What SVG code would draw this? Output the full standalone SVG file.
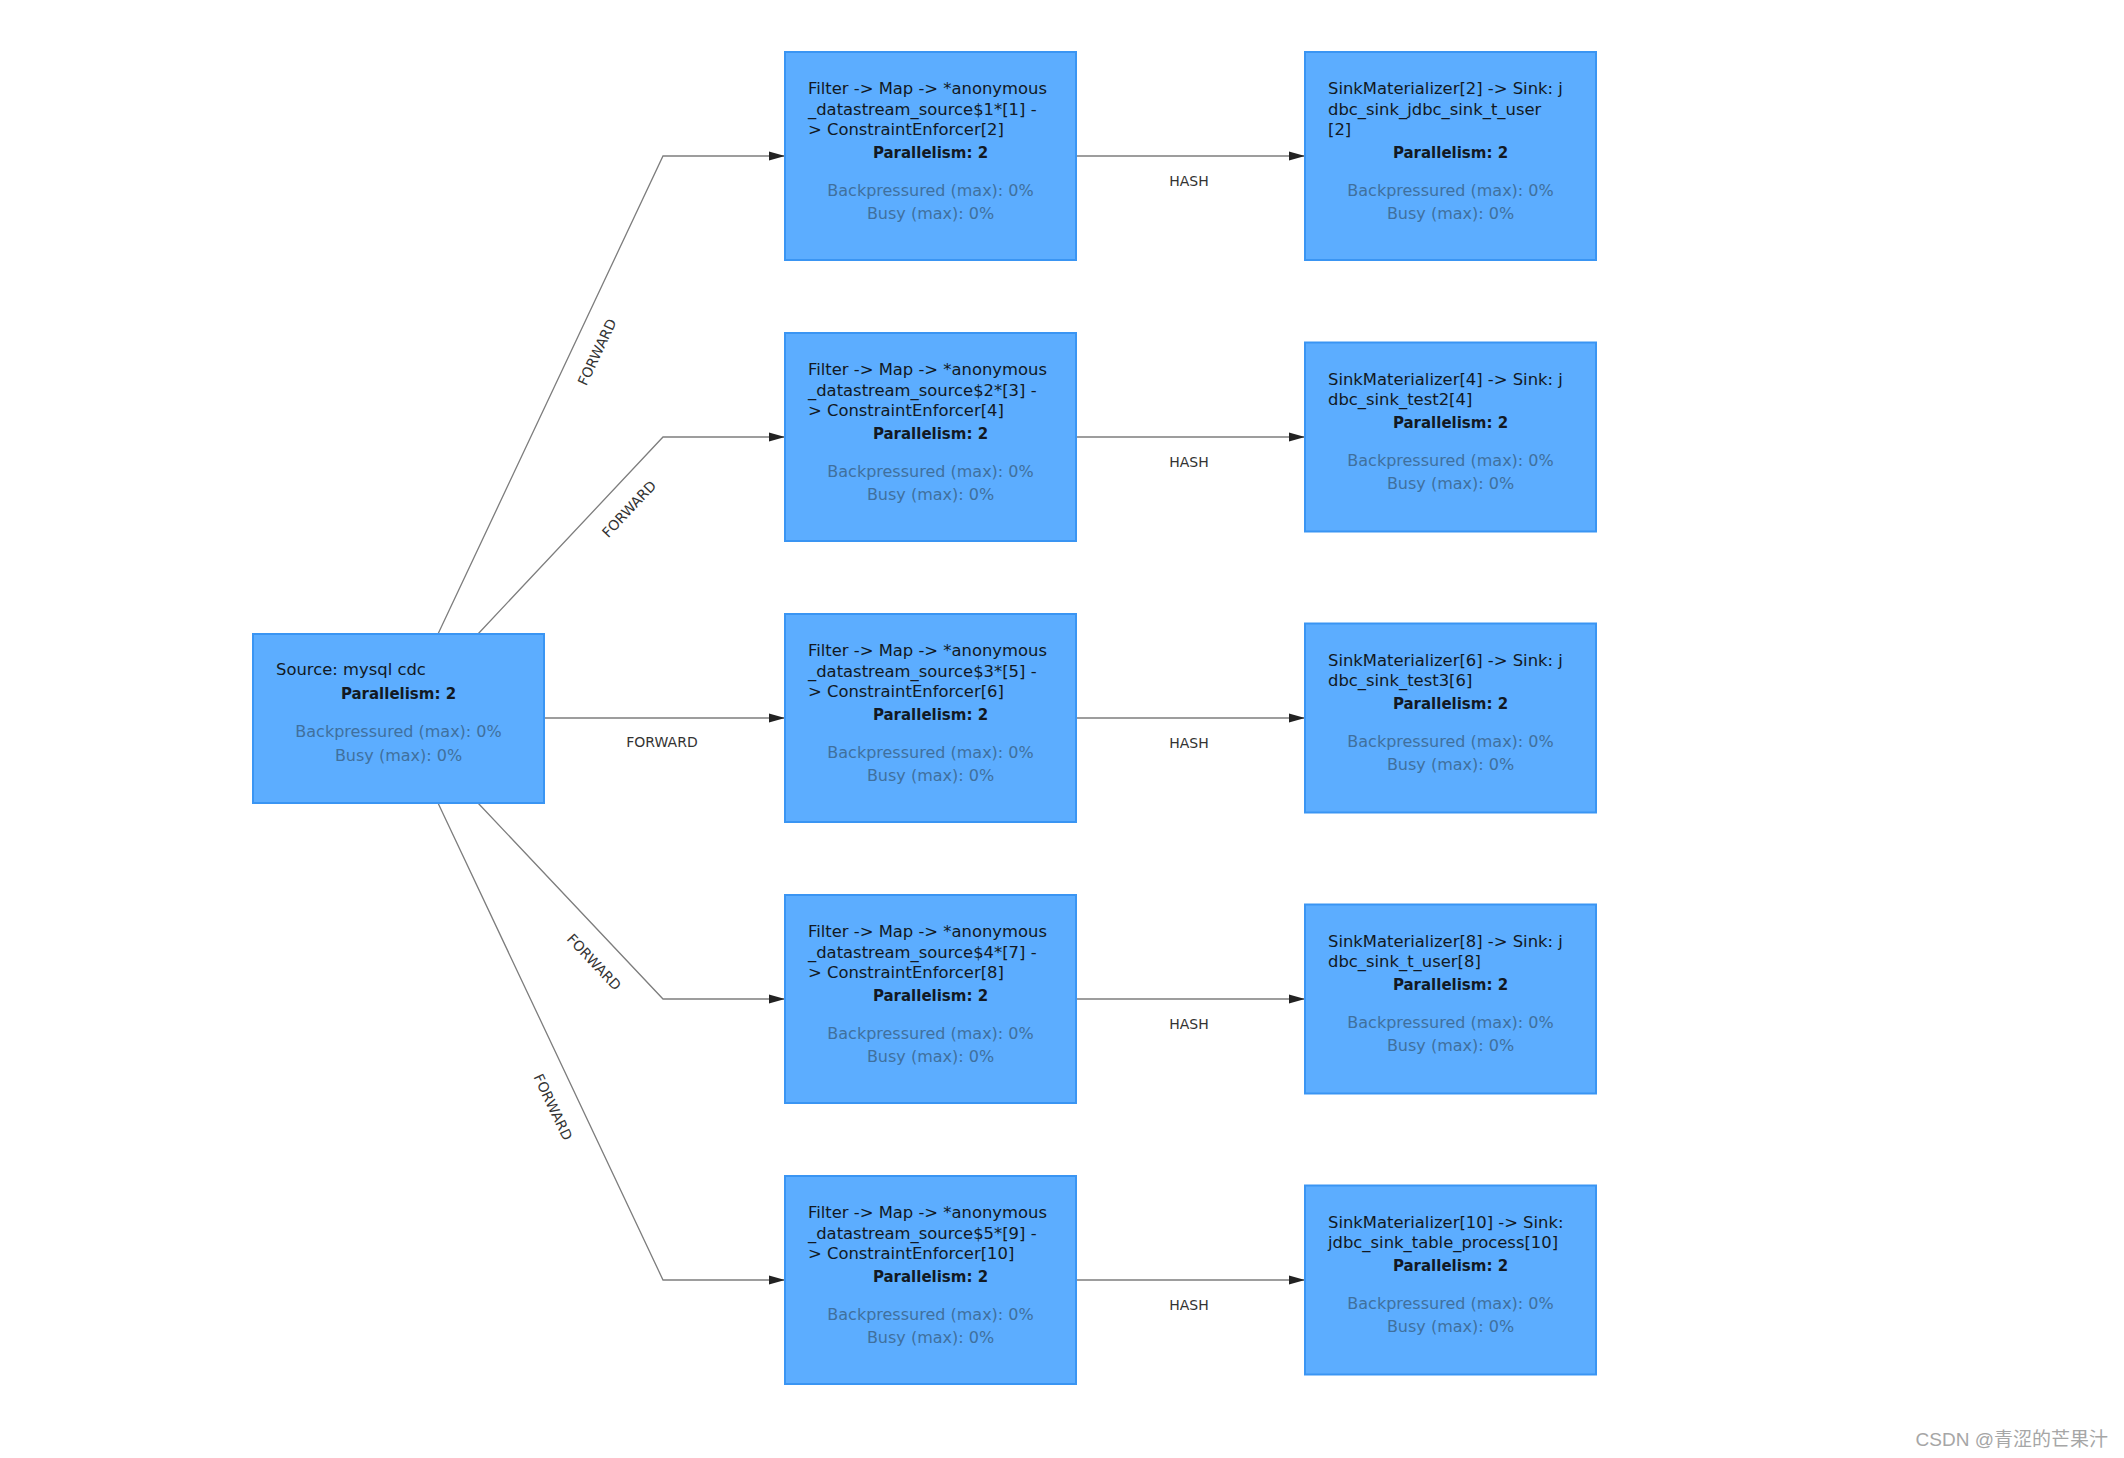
<svg xmlns="http://www.w3.org/2000/svg" width="2124" height="1458" viewBox="0 0 2124 1458">
<style>
.box{fill:#5cadff;stroke:#3a95f3;stroke-width:2}
.t{font-family:"DejaVu Sans","Noto Sans",sans-serif;font-size:16.4px;fill:#121923}
.p{font-family:"DejaVu Sans","Noto Sans",sans-serif;font-size:15px;font-weight:bold;fill:#121923;text-anchor:middle}
.m{font-family:"DejaVu Sans","Noto Sans",sans-serif;font-size:16px;fill:#40709d;text-anchor:middle}
.e{fill:none;stroke:#7d7d7d;stroke-width:1.3}
.lbl{font-family:"DejaVu Sans","Noto Sans",sans-serif;font-size:14px;fill:#333;text-anchor:middle}
.wm{font-family:"Liberation Sans","Noto Sans CJK SC",sans-serif;font-size:19px;fill:#a6a6a6;text-anchor:end}
</style>
<defs>
<marker id="arr" markerUnits="userSpaceOnUse" markerWidth="16" markerHeight="10" refX="16" refY="5" orient="auto">
<path d="M0,0.5 L16,5 L0,9.5 z" fill="#222"/>
</marker>
</defs>
<rect width="2124" height="1458" fill="#fff"/>
<g id="edges">
<path class="e" d="M438,634 L663,156 L785,156" marker-end="url(#arr)"/>
<path class="e" d="M478,634 L663,437 L785,437" marker-end="url(#arr)"/>
<path class="e" d="M544,718 L785,718" marker-end="url(#arr)"/>
<path class="e" d="M478,803 L663,999 L785,999" marker-end="url(#arr)"/>
<path class="e" d="M438,803 L663,1280 L785,1280" marker-end="url(#arr)"/>
<path class="e" d="M1076,156 L1305,156" marker-end="url(#arr)"/>
<path class="e" d="M1076,437 L1305,437" marker-end="url(#arr)"/>
<path class="e" d="M1076,718 L1305,718" marker-end="url(#arr)"/>
<path class="e" d="M1076,999 L1305,999" marker-end="url(#arr)"/>
<path class="e" d="M1076,1280 L1305,1280" marker-end="url(#arr)"/>
<text class="lbl" transform="translate(597,352) rotate(-64.8)" y="5">FORWARD</text>
<text class="lbl" transform="translate(629,509) rotate(-46.8)" y="5">FORWARD</text>
<text class="lbl" x="662" y="747">FORWARD</text>
<text class="lbl" transform="translate(594,962) rotate(46.7)" y="5">FORWARD</text>
<text class="lbl" transform="translate(553,1107) rotate(64.7)" y="5">FORWARD</text>
<text class="lbl" x="1189" y="186">HASH</text>
<text class="lbl" x="1189" y="467">HASH</text>
<text class="lbl" x="1189" y="748">HASH</text>
<text class="lbl" x="1189" y="1029">HASH</text>
<text class="lbl" x="1189" y="1310">HASH</text>
</g>
<g id="source">
<rect class="box" x="253" y="634" width="291" height="169"/>
<text class="t" x="276" y="675">Source: mysql cdc</text>
<text class="p" x="398.5" y="699">Parallelism: 2</text>
<text class="m" x="398.5" y="737">Backpressured (max): 0%</text>
<text class="m" x="398.5" y="761">Busy (max): 0%</text>
</g>
<g id="filter1">
<rect class="box" x="785" y="52" width="291" height="208"/>
<text class="t" x="808" y="94">Filter -&gt; Map -&gt; *anonymous</text>
<text class="t" x="808" y="114.5">_datastream_source$1*[1] -</text>
<text class="t" x="808" y="135">&gt; ConstraintEnforcer[2]</text>
<text class="p" x="930.5" y="158">Parallelism: 2</text>
<text class="m" x="930.5" y="196">Backpressured (max): 0%</text>
<text class="m" x="930.5" y="219">Busy (max): 0%</text>
</g>
<g id="filter2">
<rect class="box" x="785" y="333" width="291" height="208"/>
<text class="t" x="808" y="375">Filter -&gt; Map -&gt; *anonymous</text>
<text class="t" x="808" y="395.5">_datastream_source$2*[3] -</text>
<text class="t" x="808" y="416">&gt; ConstraintEnforcer[4]</text>
<text class="p" x="930.5" y="439">Parallelism: 2</text>
<text class="m" x="930.5" y="477">Backpressured (max): 0%</text>
<text class="m" x="930.5" y="500">Busy (max): 0%</text>
</g>
<g id="filter3">
<rect class="box" x="785" y="614" width="291" height="208"/>
<text class="t" x="808" y="656">Filter -&gt; Map -&gt; *anonymous</text>
<text class="t" x="808" y="676.5">_datastream_source$3*[5] -</text>
<text class="t" x="808" y="697">&gt; ConstraintEnforcer[6]</text>
<text class="p" x="930.5" y="720">Parallelism: 2</text>
<text class="m" x="930.5" y="758">Backpressured (max): 0%</text>
<text class="m" x="930.5" y="781">Busy (max): 0%</text>
</g>
<g id="filter4">
<rect class="box" x="785" y="895" width="291" height="208"/>
<text class="t" x="808" y="937">Filter -&gt; Map -&gt; *anonymous</text>
<text class="t" x="808" y="957.5">_datastream_source$4*[7] -</text>
<text class="t" x="808" y="978">&gt; ConstraintEnforcer[8]</text>
<text class="p" x="930.5" y="1001">Parallelism: 2</text>
<text class="m" x="930.5" y="1039">Backpressured (max): 0%</text>
<text class="m" x="930.5" y="1062">Busy (max): 0%</text>
</g>
<g id="filter5">
<rect class="box" x="785" y="1176" width="291" height="208"/>
<text class="t" x="808" y="1218">Filter -&gt; Map -&gt; *anonymous</text>
<text class="t" x="808" y="1238.5">_datastream_source$5*[9] -</text>
<text class="t" x="808" y="1259">&gt; ConstraintEnforcer[10]</text>
<text class="p" x="930.5" y="1282">Parallelism: 2</text>
<text class="m" x="930.5" y="1320">Backpressured (max): 0%</text>
<text class="m" x="930.5" y="1343">Busy (max): 0%</text>
</g>
<g id="sink1">
<rect class="box" x="1305" y="52" width="291" height="208"/>
<text class="t" x="1328" y="94">SinkMaterializer[2] -&gt; Sink: j</text>
<text class="t" x="1328" y="114.5">dbc_sink_jdbc_sink_t_user</text>
<text class="t" x="1328" y="135">[2]</text>
<text class="p" x="1450.5" y="158">Parallelism: 2</text>
<text class="m" x="1450.5" y="196">Backpressured (max): 0%</text>
<text class="m" x="1450.5" y="219">Busy (max): 0%</text>
</g>
<g id="sink2">
<rect class="box" x="1305" y="342.5" width="291" height="189"/>
<text class="t" x="1328" y="384.5">SinkMaterializer[4] -&gt; Sink: j</text>
<text class="t" x="1328" y="405">dbc_sink_test2[4]</text>
<text class="p" x="1450.5" y="428">Parallelism: 2</text>
<text class="m" x="1450.5" y="466">Backpressured (max): 0%</text>
<text class="m" x="1450.5" y="489">Busy (max): 0%</text>
</g>
<g id="sink3">
<rect class="box" x="1305" y="623.5" width="291" height="189"/>
<text class="t" x="1328" y="665.5">SinkMaterializer[6] -&gt; Sink: j</text>
<text class="t" x="1328" y="686">dbc_sink_test3[6]</text>
<text class="p" x="1450.5" y="709">Parallelism: 2</text>
<text class="m" x="1450.5" y="747">Backpressured (max): 0%</text>
<text class="m" x="1450.5" y="770">Busy (max): 0%</text>
</g>
<g id="sink4">
<rect class="box" x="1305" y="904.5" width="291" height="189"/>
<text class="t" x="1328" y="946.5">SinkMaterializer[8] -&gt; Sink: j</text>
<text class="t" x="1328" y="967">dbc_sink_t_user[8]</text>
<text class="p" x="1450.5" y="990">Parallelism: 2</text>
<text class="m" x="1450.5" y="1028">Backpressured (max): 0%</text>
<text class="m" x="1450.5" y="1051">Busy (max): 0%</text>
</g>
<g id="sink5">
<rect class="box" x="1305" y="1185.5" width="291" height="189"/>
<text class="t" x="1328" y="1227.5">SinkMaterializer[10] -&gt; Sink:</text>
<text class="t" x="1328" y="1248">jdbc_sink_table_process[10]</text>
<text class="p" x="1450.5" y="1271">Parallelism: 2</text>
<text class="m" x="1450.5" y="1309">Backpressured (max): 0%</text>
<text class="m" x="1450.5" y="1332">Busy (max): 0%</text>
</g>
<text class="wm" x="2108" y="1446">CSDN @青涩的芒果汁</text>
</svg>
